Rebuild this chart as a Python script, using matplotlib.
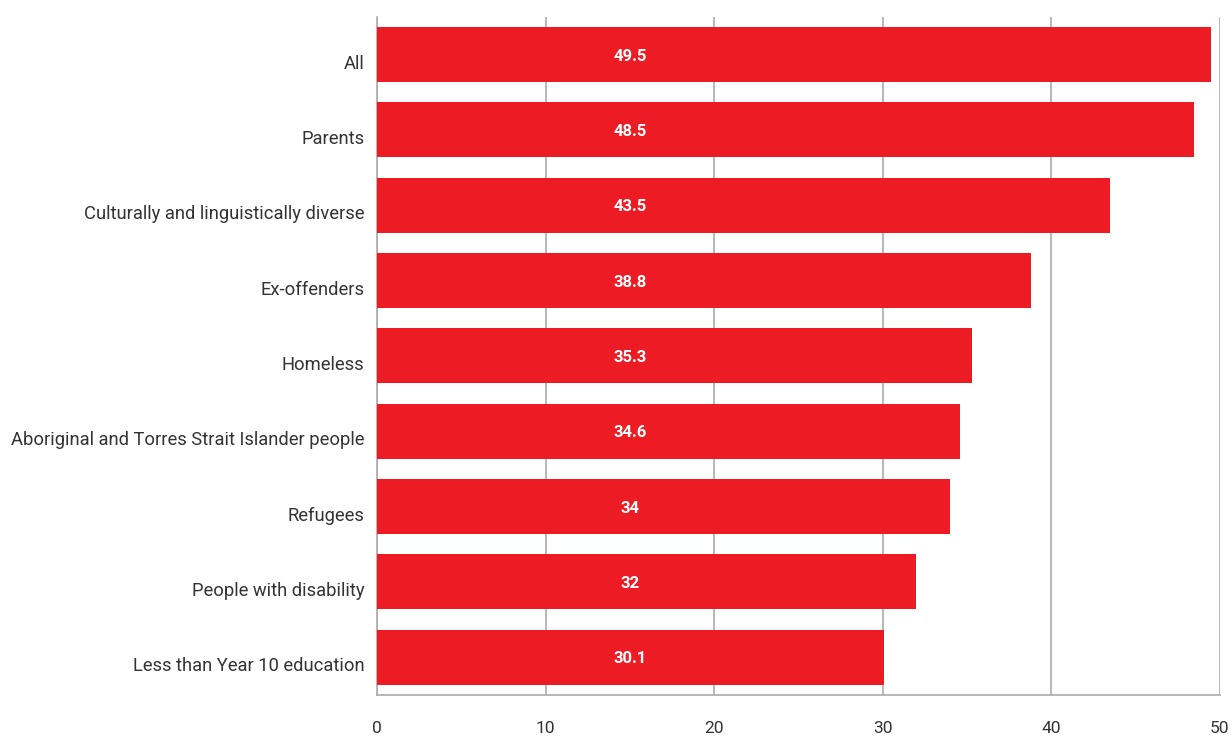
import matplotlib.pyplot as plt
from matplotlib.transforms import ScaledTranslation

plt.rcParams['font.family'] = ['Roboto', 'DejaVu Sans']

groups = ['All', 'Parents', 'Culturally and linguistically diverse', 'Ex-offenders',
          'Homeless', 'Aboriginal and Torres Strait Islander people', 'Refugees',
          'People with disability', 'Less than Year 10 education']
values = [49.5, 48.5, 43.5, 38.8, 35.3, 34.6, 34, 32, 30.1]
labels = ['49.5', '48.5', '43.5', '38.8', '35.3', '34.6', '34', '32', '30.1']

red = '#ED1C24'
grey = '#ABABAB'

fig = plt.figure(figsize=(12.32, 7.36), dpi=100)
ax = fig.add_axes([0.306, 0.0557, 0.684, 0.9213])

pos = list(range(len(groups)))
ax.barh(pos, values, height=0.73, color=red, zorder=3)
for p, lab in zip(pos, labels):
    ax.text(15, p + 0.02, lab, ha='center', va='center', color='white',
            fontsize=12, fontweight='bold', zorder=4)

ax.set_xlim(0, 50)
ax.set_ylim(8.5, -0.5)
ax.set_yticks(pos)
ax.set_yticklabels(groups, fontsize=13.2, color='#333333')
ax.set_xticks([0, 10, 20, 30, 40, 50])
ax.tick_params(axis='both', length=0, colors='#333333')
ax.tick_params(axis='x', pad=19, labelsize=12.5)
ax.tick_params(axis='y', pad=9)
ax.xaxis.grid(True, color=grey, linewidth=1.2, zorder=0)

# category names sit a little below the bar centres
shift = ScaledTranslation(0, -0.07, fig.dpi_scale_trans)
for t in ax.get_yticklabels():
    t.set_transform(t.get_transform() + shift)

for s in ['top', 'right']:
    ax.spines[s].set_visible(False)
for s in ['left', 'bottom']:
    ax.spines[s].set_color(grey)
    ax.spines[s].set_linewidth(1.2)

fig.savefig('out.png', dpi=100)
